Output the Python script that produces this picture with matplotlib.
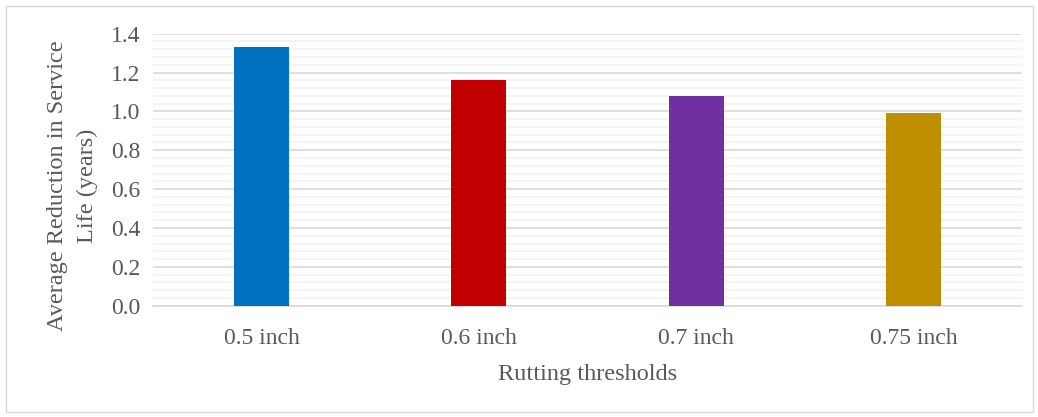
import matplotlib
matplotlib.use("Agg")
import matplotlib.pyplot as plt
from matplotlib.ticker import MultipleLocator
from matplotlib.patches import Rectangle

categories = ["0.5 inch", "0.6 inch", "0.7 inch", "0.75 inch"]
values = [1.33, 1.16, 1.08, 0.99]
colors = ["#0070C0", "#C00000", "#7030A0", "#BF8F00"]

plt.rcParams['font.family'] = ['Liberation Serif', 'DejaVu Serif']
txt = "#595959"

W, H = 1038, 417
fig = plt.figure(figsize=(W / 100, H / 100), dpi=100)
ax = fig.add_axes([153 / W, 1 - 305.7 / H, (1022 - 153) / W, (305.7 - 33.7) / H])

x = range(len(categories))
ax.bar(x, values, width=0.253, color=colors, zorder=3)
ax.set_xlim(-0.5, len(categories) - 0.5)
ax.set_ylim(0, 1.4)
ax.yaxis.set_major_locator(MultipleLocator(0.2))
ax.yaxis.set_minor_locator(MultipleLocator(0.04))
ax.set_yticklabels([f"{v:.1f}" for v in ax.get_yticks()])
ax.set_xticks(list(x))
ax.set_xticklabels(categories)

ax.grid(axis='y', which='major', color='#D9D9D9', linewidth=1.2, zorder=0)
ax.grid(axis='y', which='minor', color='#F2F2F2', linewidth=1.2, zorder=0)
for s in ['top', 'right', 'left']:
    ax.spines[s].set_visible(False)
ax.spines['bottom'].set_color('#D9D9D9')
ax.spines['bottom'].set_linewidth(1.2)
ax.tick_params(axis='both', which='both', length=0, labelsize=17, colors=txt, pad=9)
ax.tick_params(axis='x', pad=16)

ax.set_xlabel("Rutting thresholds", fontsize=17.5, color=txt, labelpad=11)
ax.set_ylabel("Average Reduction in Service\nLife (years)", fontsize=17.5, color=txt,
              linespacing=1.55)
ax.yaxis.set_label_coords(-0.063, 0.44)

fig.patches.append(Rectangle((5.5 / W, 5.5 / H), (W - 11) / W, (H - 11) / H,
                             transform=fig.transFigure, fill=False,
                             edgecolor='#D9D9D9', linewidth=1))

fig.savefig("out.png", dpi=100, facecolor='white')
